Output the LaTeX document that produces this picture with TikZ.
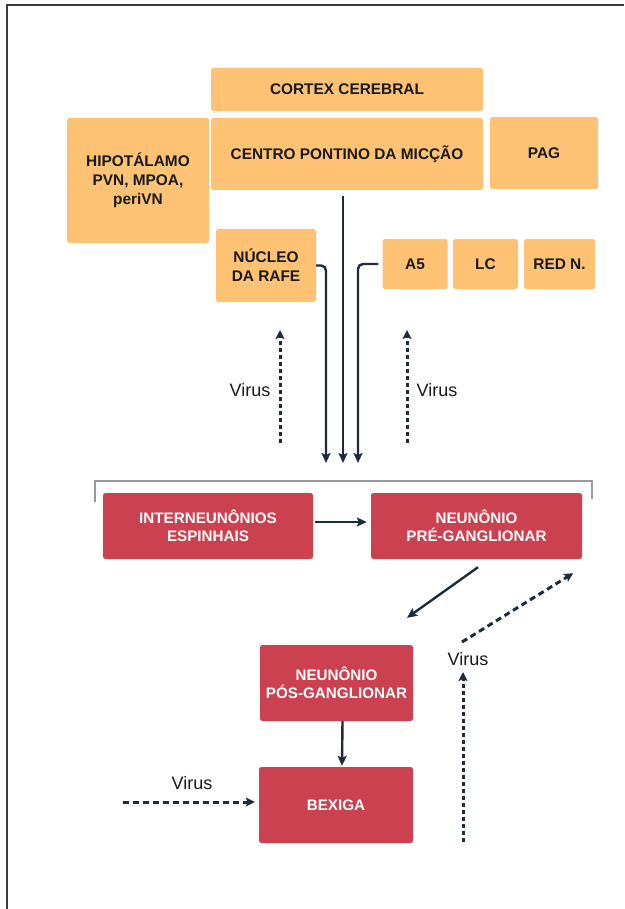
\documentclass[tikz,border=0pt]{standalone}
\usepackage{fontspec}
\setmainfont{Liberation Sans}
\usetikzlibrary{arrows.meta,calc}
\definecolor{boxorange}{HTML}{FDC274}
\definecolor{boxred}{HTML}{CB4150}
\definecolor{ink}{HTML}{1D2B3A}
\definecolor{framegray}{HTML}{3C3C3C}
\definecolor{bracketgray}{HTML}{9A9A9A}
\begin{document}
\begin{tikzpicture}[x=1pt,y=-1pt,
  obox/.style={fill=boxorange, rounded corners=2.5pt, inner sep=0pt, align=center,
    font=\bfseries\fontsize{15.4}{19}\selectfont, text=black!90},
  rbox/.style={fill=boxred, rounded corners=2.5pt, inner sep=0pt, align=center,
    font=\bfseries\fontsize{15.2}{18.5}\selectfont, text=white},
  wire/.style={draw=ink, line width=2.4pt, -{Stealth[length=10pt,width=9pt,inset=2pt]}},
  virusdots/.style={draw=ink, line width=3pt, dash pattern=on 4pt off 3pt,
    -{Stealth[length=9pt,width=9pt,inset=2pt]}},
  virusdash/.style={draw=ink, line width=3pt, dash pattern=on 6pt off 4pt,
    -{Stealth[length=9pt,width=9pt,inset=2pt]}},
  viruslbl/.style={font=\fontsize{18}{20}\selectfont, text=black!90, inner sep=0pt},
]
\useasboundingbox (0,0) rectangle (624,909);

% outer frame
\draw[framegray, line width=1.8pt] (7,909) -- (7,5) -- (624,5);

% brain centres
\node[obox, minimum width=272pt, minimum height=43pt] (cortex) at (347,89.5) {CORTEX CEREBRAL};
\node[obox, minimum width=142pt, minimum height=125pt] (hipo) at (138,180.5) {HIPOTÁLAMO\\PVN, MPOA,\\periVN};
\node[obox, minimum width=272pt, minimum height=72pt] (centro) at (347,154) {CENTRO PONTINO DA MICÇÃO};
\node[obox, minimum width=108pt, minimum height=72pt] (pag) at (544,153) {PAG};
\node[obox, minimum width=100pt, minimum height=73pt] (nucleo) at (266,265.5) {NÚCLEO\\DA RAFE};
\node[obox, minimum width=65pt, minimum height=50pt] (a5) at (415,264) {A5};
\node[obox, minimum width=65pt, minimum height=50pt] (lc) at (485.5,264) {LC};
\node[obox, minimum width=71pt, minimum height=50pt] (redn) at (559.5,264) {RED N.};

% descending pathways
\coordinate (tipL) at (326,463);
\coordinate (tipM) at (343,463);
\coordinate (tipR) at (358,463);
\draw[wire, shorten <=6pt] (centro.south -| tipM) -- (tipM);
\draw[wire, rounded corners=5pt] (nucleo.east) -| (tipL);
\draw[wire, rounded corners=5pt] ([xshift=-4pt]a5.west) -| (tipR);

% retrograde virus, upper level
\coordinate (vL0) at (280,443);
\coordinate (vL1) at (280,330);
\coordinate (vR0) at (407,443);
\coordinate (vR1) at (407,330);
\draw[virusdots] (vL0) -- (vL1);
\draw[virusdots] (vR0) -- (vR1);
\node[viruslbl] (virusL) at (250,390) {Virus};
\node[viruslbl] (virusR) at (437,390) {Virus};

% spinal cord bracket
\draw[bracketgray, line width=1.6pt] (95,502) |- (592,481) -- (592,499);

% spinal and peripheral neurons
\node[rbox, minimum width=210pt, minimum height=66pt] (inter) at (208,526) {INTERNEUNÔNIOS\\ESPINHAIS};
\node[rbox, minimum width=211pt, minimum height=66pt] (pre) at (476.5,526) {NEUNÔNIO\\PRÉ-GANGLIONAR};
\node[rbox, minimum width=153pt, minimum height=76pt] (pos) at (336.5,683) {NEUNÔNIO\\PÓS-GANGLIONAR};
\node[rbox, minimum width=154pt, minimum height=76pt] (bex) at (336,805) {BEXIGA};

\draw[wire, shorten <=2pt, shorten >=4pt] ([yshift=4pt]inter.east) -- ([yshift=4pt]pre.west);
\draw[wire] ([xshift=1.5pt,yshift=-8pt]pre.south) -- ([xshift=70.5pt,yshift=27pt]pos.north);
\draw[wire, shorten >=1pt] ([xshift=6pt]pos.south) -- ([xshift=6pt]bex.north);

% virus injected into the bladder
\coordinate (vB0) at (123,802);
\draw[virusdash] (vB0) -- ([xshift=-4pt,yshift=3pt]bex.west);
\node[viruslbl] (virusB) at (192,783) {Virus};

% virus ascending to the preganglionic neuron
\coordinate (vU0) at (463,842);
\coordinate (vU1) at (463,672);
\coordinate (vU2) at (462,642);
\node[viruslbl] (virusU) at (468,659) {Virus};
\draw[virusdots] (vU0) -- (vU1);
\draw[virusdash] (vU2) -- ([xshift=-9pt,yshift=-14pt]pre.south east);
\end{tikzpicture}
\end{document}
